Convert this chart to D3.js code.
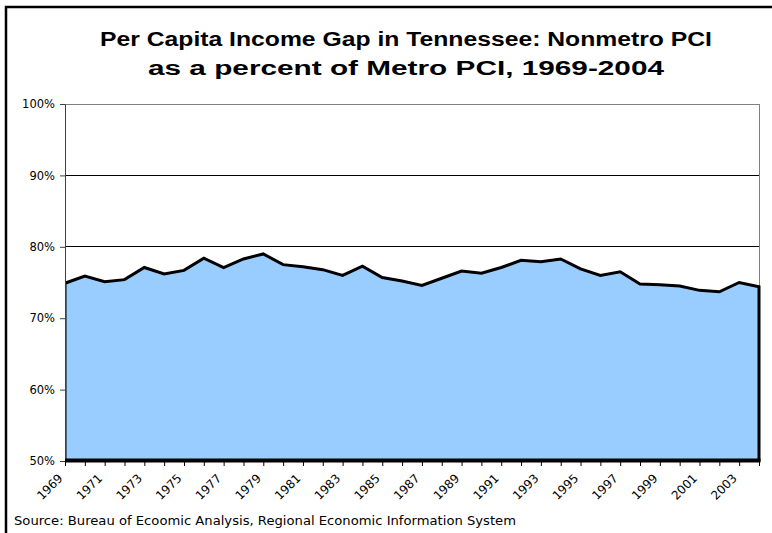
<!DOCTYPE html>
<html>
<head>
<meta charset="utf-8">
<script src="https://cdn.jsdelivr.net/npm/d3@7"></script>
<style>
html,body{margin:0;padding:0;background:#fff;}
svg{display:block;}
</style>
</head>
<body>
<svg id="chart" width="772" height="533"></svg>
<script>
const years = d3.range(1969, 2005);
const values = [74.9,75.9,75.1,75.4,77.1,76.2,76.7,78.4,77.1,78.3,
                79.0,77.5,77.2,76.8,76.0,77.3,75.7,75.2,74.6,75.6,
                76.6,76.3,77.1,78.1,77.9,78.3,76.9,76.0,76.5,74.8,
                74.7,74.5,73.9,73.7,75.0,74.4];
const yTicks = [50,60,70,80,90,100];
const xLabelYears = years.filter((y,i)=>i%2===0);
const titleLines = ["Per Capita Income Gap in Tennessee: Nonmetro PCI","as a percent of Metro PCI, 1969-2004"];
const sourceText = "Source: Bureau of Ecoomic Analysis, Regional Economic Information System";

const data = years.map((y,i)=>({year:y, value:values[i]}));
const svg = d3.select("#chart");
const m = {left:65, right:759, top:104, bottom:461};

// outer chart border
svg.append("rect").attr("x",6).attr("y",7).attr("width",900).attr("height",700)
  .attr("fill","#fff").attr("stroke","#000").attr("stroke-width",2.5);

const x = d3.scaleLinear().domain([1969,2004]).range([m.left,m.right]);
const y = d3.scaleLinear().domain([50,100]).range([m.bottom,m.top]);

// gridlines
svg.append("g").selectAll("line").data(yTicks.filter(t=>t>50 && t<100)).join("line")
  .attr("x1",m.left).attr("x2",m.right).attr("y1",d=>y(d)).attr("y2",d=>y(d))
  .attr("stroke","#000").attr("stroke-width",1).attr("shape-rendering","crispEdges");

// plot frame
svg.append("rect").attr("x",m.left).attr("y",m.top).attr("width",m.right-m.left).attr("height",m.bottom-m.top)
  .attr("fill","none").attr("stroke","#808080").attr("stroke-width",1).attr("shape-rendering","crispEdges");

// clip
svg.append("clipPath").attr("id","clip").append("rect")
  .attr("x",m.left).attr("y",m.top-5).attr("width",m.right-m.left+3).attr("height",m.bottom-m.top+8);

const area = d3.area().x(d=>x(d.year)).y0(y(50)).y1(d=>y(d.value));
svg.append("path").datum(data).attr("d",area)
  .attr("fill","#99CCFF").attr("stroke","#000").attr("stroke-width",3)
  .attr("stroke-linejoin","miter").attr("clip-path","url(#clip)");

// y axis
const yAxis = svg.append("g").attr("transform",`translate(${m.left},0)`)
  .call(d3.axisLeft(y).tickValues(yTicks).tickFormat(d=>d+"%").tickSize(5).tickPadding(5));
yAxis.select(".domain").attr("stroke","#404040");
yAxis.selectAll(".tick line").attr("stroke","#404040");
yAxis.selectAll("text").attr("font-family","DejaVu Sans, Verdana, sans-serif").attr("font-size","11.5px").attr("fill","#000");

// x axis
const xAxis = svg.append("g").attr("transform",`translate(0,${m.bottom})`)
  .call(d3.axisBottom(x).tickValues(years).tickFormat(d=>xLabelYears.includes(d)?String(d):"").tickSize(5).tickSizeOuter(0));
xAxis.select(".domain").remove();
xAxis.selectAll(".tick line").attr("stroke","#000");
xAxis.selectAll("text")
  .attr("font-family","DejaVu Sans, Verdana, sans-serif").attr("font-size","12px").attr("fill","#000")
  .attr("text-anchor","end").attr("dy",0).attr("y",0)
  .attr("transform","translate(-2,18) rotate(-45)");
// bottom axis line thick (area bottom)
svg.append("line").attr("x1",m.left).attr("x2",m.right+1.5).attr("y1",m.bottom-1).attr("y2",m.bottom-1)
  .attr("stroke","#000").attr("stroke-width",3);

// title
svg.append("g").selectAll("text").data(titleLines).join("text")
  .attr("x",406).attr("y",(d,i)=>46+i*29).attr("text-anchor","middle")
  .attr("font-family","Liberation Sans, Arial, sans-serif").attr("font-weight","bold").attr("font-size","20px")
  .attr("textLength",(d,i)=>i===0?612:516).attr("lengthAdjust","spacingAndGlyphs")
  .text(d=>d);

// source
svg.append("text").attr("x",14).attr("y",525)
  .attr("font-family","DejaVu Sans, Verdana, sans-serif").attr("font-size","11.5px")
  .attr("textLength",502).attr("lengthAdjust","spacingAndGlyphs")
  .text(sourceText);
</script>
</body>
</html>
